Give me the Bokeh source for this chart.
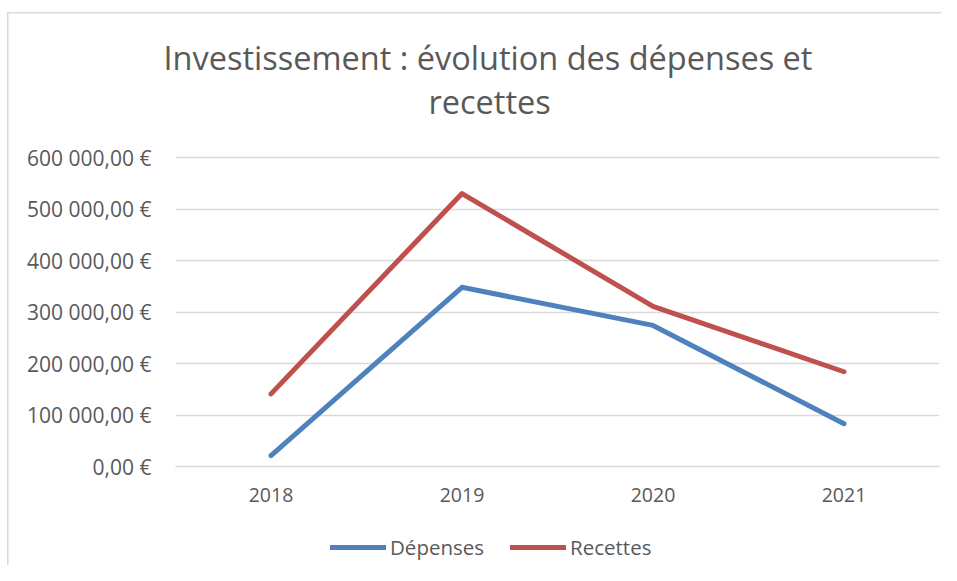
from bokeh.plotting import figure
from bokeh.models import (FactorRange, Range1d, Legend, LegendItem,
                          FixedTicker, Title)
from bokeh.layouts import column
from bokeh.embed import file_html
from bokeh.resources import INLINE

years = ["2018", "2019", "2020", "2021"]
depenses = [21000, 348000, 274000, 83000]
recettes = [141000, 530000, 311000, 184000]
y_ticks = [0, 100000, 200000, 300000, 400000, 500000, 600000]
y_tick_labels = ["0,00 €", "100 000,00 €", "200 000,00 €", "300 000,00 €",
                 "400 000,00 €", "500 000,00 €", "600 000,00 €"]
title_lines = ["Investissement : évolution des dépenses et", "recettes"]
series_names = ["Dépenses", "Recettes"]
series_colors = ["#4F81BD", "#C0504D"]

TEXT = "#595959"
GRID = "#d9d9d9"
FONT = "Open Sans"

p = figure(width=941, height=515, output_backend="svg", toolbar_location=None,
           x_range=FactorRange(factors=years, range_padding=0),
           y_range=Range1d(0, 602000),
           min_border_left=175, min_border_right=2,
           min_border_top=156, min_border_bottom=49)
p.outline_line_color = None
p.background_fill_color = None
p.border_fill_color = None

# grid
p.xgrid.grid_line_color = None
p.ygrid.grid_line_color = GRID
p.ygrid.grid_line_width = 1.5
p.yaxis.ticker = FixedTicker(ticks=y_ticks)
p.yaxis.major_label_overrides = {t: l for t, l in zip(y_ticks, y_tick_labels)}

for ax in (p.xaxis, p.yaxis):
    ax.major_tick_out = 0
    ax.major_tick_in = 0
    ax.minor_tick_out = 0
    ax.minor_tick_in = 0
    ax.major_label_text_color = TEXT
    ax.major_label_text_font = FONT
p.xaxis.major_label_text_font_size = "19.5px"
p.yaxis.major_label_text_font_size = "21px"
p.yaxis.axis_line_color = None
p.yaxis.major_label_standoff = 24
p.xaxis.axis_line_color = GRID
p.xaxis.axis_line_width = 1.5
p.xaxis.major_label_standoff = 21

p.line(years, depenses, line_color=series_colors[0], line_width=5,
       line_cap="round", line_join="round")
p.line(years, recettes, line_color=series_colors[1], line_width=5,
       line_cap="round", line_join="round")

# title (two lines): spacer next to the frame, then line 2, then line 1
p.add_layout(Title(text=" ", standoff=30, text_font=FONT,
                   text_font_size="1px", text_color=TEXT), "above")
p.add_layout(Title(text=title_lines[1], align="left", offset=253,
                   standoff=0, vertical_align="bottom",
                   text_font=FONT, text_font_size="32.5px",
                   text_font_style="normal", text_color=TEXT), "above")
p.add_layout(Title(text=title_lines[0], align="left", offset=-12,
                   standoff=-7, vertical_align="bottom",
                   text_font=FONT, text_font_size="32.5px",
                   text_font_style="normal", text_color=TEXT), "above")

# legend strip
q = figure(width=941, height=50, output_backend="svg", toolbar_location=None,
           x_range=FactorRange(factors=years, range_padding=0),
           y_range=Range1d(-2, -1),
           min_border_left=0, min_border_right=0, min_border_top=0,
           min_border_bottom=0)
q.axis.visible = False
q.grid.visible = False
q.outline_line_color = None
q.background_fill_color = None
q.border_fill_color = None
k1 = q.line(years, depenses, line_color=series_colors[0], line_width=5,
            line_cap="round")
k2 = q.line(years, recettes, line_color=series_colors[1], line_width=5,
            line_cap="round")
legend = Legend(items=[LegendItem(label=series_names[0], renderers=[k1]),
                       LegendItem(label=series_names[1], renderers=[k2])],
                orientation="horizontal", location=(155, 4),
                glyph_width=56, glyph_height=20, label_height=20,
                label_standoff=4, spacing=26, padding=0, margin=0,
                border_line_color=None, background_fill_alpha=0,
                label_text_font=FONT, label_text_font_size="20.5px",
                label_text_color=TEXT)
q.add_layout(legend, "center")

layout = column(p, q, spacing=0)
layout.styles = {
    "background": ("linear-gradient(#d9d9d9,#d9d9d9) 7px 12px / 1.5px 100% no-repeat, "
                   "linear-gradient(#d9d9d9,#d9d9d9) 7px 12px / 100% 1.5px no-repeat, white"),
}

open("out.html", "w").write(file_html(layout, INLINE))
